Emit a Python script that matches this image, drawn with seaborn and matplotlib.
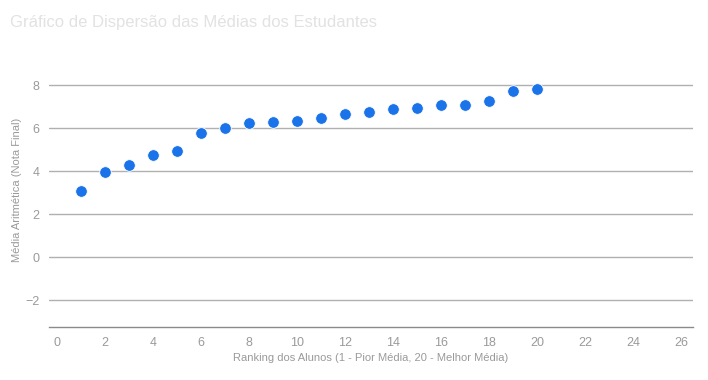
import matplotlib
matplotlib.use("Agg")
import matplotlib.pyplot as plt
import seaborn as sns
import pandas as pd

# ranking dos alunos e suas medias finais
ranking = list(range(1, 21))
medias = [3.08, 3.95, 4.29, 4.77, 4.96, 5.77, 6.01, 6.25, 6.29, 6.35,
          6.47, 6.65, 6.77, 6.90, 6.96, 7.07, 7.10, 7.28, 7.72, 7.83]
xticks = list(range(0, 27, 2))
yticks = [-2, 0, 2, 4, 6, 8]

df = pd.DataFrame({'ranking': ranking, 'media': medias})

sns.set_style("white")
plt.rcParams['font.family'] = ['Liberation Sans', 'DejaVu Sans']

fig = plt.figure(figsize=(7.08, 3.8), dpi=100)
ax = fig.add_axes([0.0696, 0.1387, 0.9088, 0.7218])

grid_color = '#b0b0b0'
text_color = '#9a9a9a'

for yv in yticks:
    ax.axhline(yv, color=grid_color, lw=1, zorder=1)

sns.scatterplot(data=df, x='ranking', y='media', ax=ax, s=70, color='#1a73e8',
                edgecolor='white', linewidth=0.6, zorder=3)

ax.set_xlim(-0.33, 26.47)
ax.set_ylim(-3.26, 9.5)
ax.set_xticks(xticks)
ax.set_yticks(yticks)
ax.set_yticklabels(['\u22122' if v < 0 else str(v) for v in yticks])

for side in ['top', 'right', 'left']:
    ax.spines[side].set_visible(False)
ax.spines['bottom'].set_color('#8a8a8a')
ax.spines['bottom'].set_linewidth(1)

ax.tick_params(axis='x', length=0, pad=7, labelsize=9, colors=text_color)
ax.tick_params(axis='y', length=4, width=1, color=grid_color, pad=3,
               labelsize=9, labelcolor=text_color)

ax.set_xlabel('Ranking dos Alunos (1 - Pior Média, 20 - Melhor Média)',
              fontsize=8, color=text_color)
ax.set_ylabel('Média Aritmética (Nota Final)', fontsize=8, color=text_color)
ax.xaxis.set_label_coords(0.5, -0.112)
ax.yaxis.set_label_coords(-0.0503, 0.5)
ax.yaxis.label.set_va('center')
ax.xaxis.label.set_va('center')

fig.text(0.0141, 0.942, 'Gráfico de Dispersão das Médias dos Estudantes',
         fontsize=12, color='#e2e2e2', ha='left', va='center')

fig.savefig('out.png', dpi=100)
